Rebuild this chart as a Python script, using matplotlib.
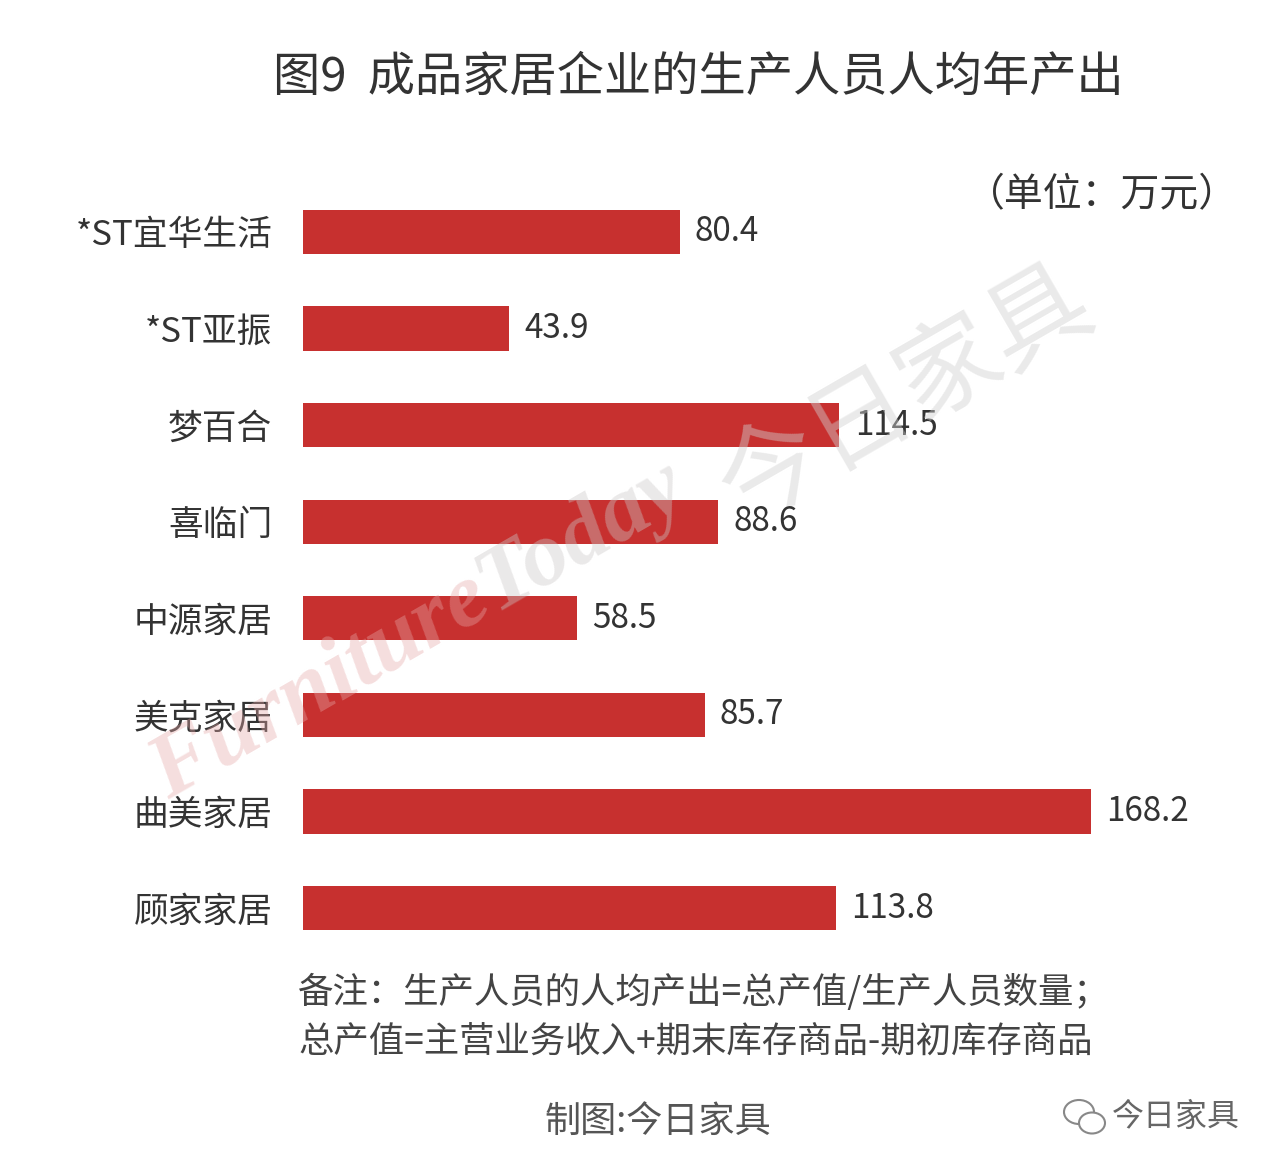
import matplotlib
matplotlib.use("Agg")
import matplotlib.pyplot as plt
from matplotlib.patches import Ellipse

plt.rcParams['font.family'] = ['Noto Sans CJK SC', 'DejaVu Sans']

categories = ["*ST宜华生活", "*ST亚振", "梦百合", "喜临门", "中源家居", "美克家居", "曲美家居", "顾家家居"]
values = [80.4, 43.9, 114.5, 88.6, 58.5, 85.7, 168.2, 113.8]
value_labels = ["80.4", "43.9", "114.5", "88.6", "58.5", "85.7", "168.2", "113.8"]

title = "图9  成品家居企业的生产人员人均年产出"
unit_text = "（单位：万元）"
note_lines = ["备注：生产人员的人均产出=总产值/生产人员数量；",
              "总产值=主营业务收入+期末库存商品-期初库存商品"]
credit = "制图:今日家具"
brand = "今日家具"

W, H = 1280, 1176
fig = plt.figure(figsize=(W / 100, H / 100), dpi=100)
fig.patch.set_facecolor("white")

left_px, right_px = 303, 1200
top_px, bot_px = 183.7, 956.3
ax = fig.add_axes([left_px / W, 1 - bot_px / H, (right_px - left_px) / W, (bot_px - top_px) / H],
                  zorder=2)
ax.set_facecolor("none")

bar_color = "#C7302F"
ypos = list(range(len(categories)))
ax.barh(ypos, values, height=0.46, color=bar_color, zorder=3)
ax.set_ylim(len(categories) - 0.5, -0.5)
ax.set_xlim(0, (right_px - left_px) / 4.685)

for y, v, lab in zip(ypos, values, value_labels):
    ax.annotate(lab, xy=(v, y), xytext=(11, 0), textcoords="offset points",
                ha="left", va="center", fontsize=24, color="#333333", zorder=4)

ax.set_yticks(ypos)
ax.set_yticklabels(categories, fontsize=25, color="#333333")
ax.tick_params(axis="y", length=0, pad=22)
ax.set_xticks([])
for s in ax.spines.values():
    s.set_visible(False)

# semi-transparent watermark overlay
wm = fig.add_axes([0, 0, 1, 1], zorder=5)
wm.set_xlim(0, W)
wm.set_ylim(H, 0)
wm.axis("off")
wm.patch.set_alpha(0)
wm.text(495, 612, "Furniture", rotation=30, rotation_mode="anchor",
        fontsize=66, family=["Liberation Serif"], style="italic", weight="bold",
        color=(0.90, 0.66, 0.66), alpha=0.38, ha="right", va="baseline")
wm.text(495, 612, "Today", rotation=30, rotation_mode="anchor",
        fontsize=66, family=["Liberation Serif"], style="italic", weight="bold",
        color=(0.80, 0.79, 0.79), alpha=0.4, ha="left", va="baseline")
wm.text(905, 395, "今日家具", rotation=30, fontsize=74,
        color=(0.82, 0.82, 0.82), alpha=0.45, ha="center", va="center")

# title & texts
fig.text(698 / W, 1 - 78 / H, title, fontsize=34, weight="medium", color="#333333",
         ha="center", va="center")
fig.text(1238 / W, 1 - 195 / H, unit_text, fontsize=28, color="#333333",
         ha="right", va="center")
fig.text(298 / W, 1 - 992 / H, note_lines[0], fontsize=25.5, color="#444444",
         ha="left", va="center")
fig.text(298 / W, 1 - 1043 / H, note_lines[1], fontsize=25.5, color="#444444",
         ha="left", va="center")
fig.text(658 / W, 1 - 1122 / H, credit, fontsize=26, color="#555555",
         ha="center", va="center")
fig.text(1240 / W, 1 - 1117 / H, brand, fontsize=23, color="#666666",
         ha="right", va="center")

# small chat-bubble logo next to brand
lax = fig.add_axes([1060 / W, 1 - 1140 / H, 50 / W, 46 / H], zorder=2)
lax.set_xlim(0, 50)
lax.set_ylim(0, 46)
lax.axis("off")
lax.add_patch(Ellipse((19, 28), 30, 24, fill=False, ec="#888888", lw=1.5))
lax.add_patch(Ellipse((32, 17), 26, 21, fill=True, ec="#888888", lw=1.5, fc="white"))

fig.savefig("out.png", dpi=100, facecolor="white")
